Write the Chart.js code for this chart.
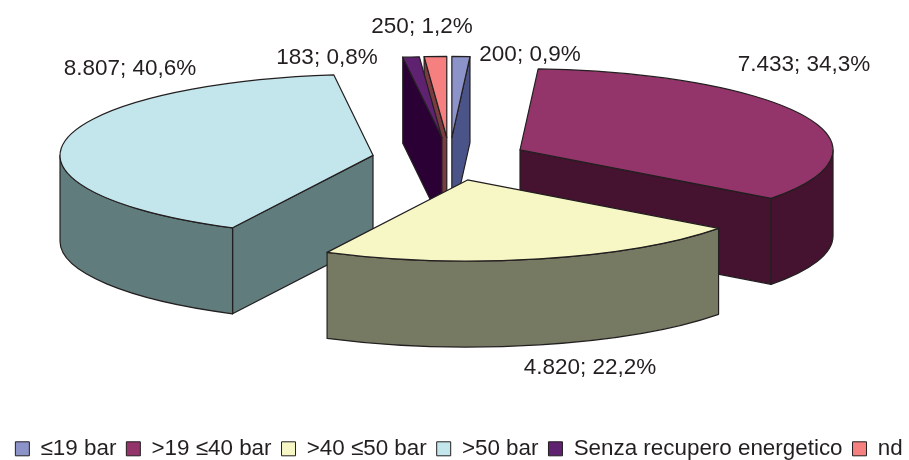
<!DOCTYPE html>
<html><head><meta charset="utf-8">
<style>html,body{margin:0;padding:0;background:#fff}canvas{display:block}</style>
<script src="https://cdn.jsdelivr.net/npm/chart.js@4/dist/chart.umd.min.js"></script>
</head><body><canvas id="c" width="909" height="460"></canvas>
<script>
const categories = ['≤19 bar','>19 ≤40 bar','>40 ≤50 bar','>50 bar','Senza recupero energetico','nd'];
const values = [200,7433,4820,8807,183,250];
const topColors = ['#8C93C8','#93356B','#F7F6C5','#C3E6EC','#5E2270','#F68080'];
const wallColors = ['#4A5488','#45122F','#767A62','#617C7D','#2A0035','#7A3C40'];
const paintOrder = [5,4,0,3,1,2];
const labelCenters = [[530,55],[804,65],[590,368],[130,69],[327,58],[422,27]];

const INK = '#231F20', FONT = 'Liberation Sans, Arial, sans-serif';
const RADIUS = 313, TILT = 0.259, DEPTH = 86, EXPLODE = 77.7, EXPLODE_TILT = 0.277;
const PIE_CX = 449.6, PIE_CY = 159, LEGEND_SHIFT = 4.5;

const total = values.reduce((a,b)=>a+b,0);
const fmt = v => {
  const s = String(v).replace(/\B(?=(\d{3})+$)/g,'.');
  return s + '; ' + (v/total*100).toFixed(1).replace('.',',') + '%';
};

const pie3d = {
  id:'pie3d',
  afterLayout(chart){
    chart.legend.left += LEGEND_SHIFT;
    chart.legend.right += LEGEND_SHIFT;
  },
  beforeDatasetDraw(chart,args){
    const ctx = chart.ctx, arcs = args.meta.data;
    ctx.lineJoin = 'round';
    for (const i of paintOrder){
      const arc = arcs[i], a0 = arc.startAngle, a1 = arc.endAngle, R = arc.outerRadius, mid = (a0+a1)/2;
      const cx = PIE_CX + EXPLODE*Math.cos(mid), cy = PIE_CY + EXPLODE*EXPLODE_TILT*Math.sin(mid);
      const rim = a => [cx+R*Math.cos(a), cy+R*TILT*Math.sin(a)];
      ctx.fillStyle = wallColors[i]; ctx.strokeStyle = INK; ctx.lineWidth = 1.2;
      const face = a => {
        const p = rim(a);
        ctx.beginPath(); ctx.moveTo(cx,cy); ctx.lineTo(p[0],p[1]); ctx.lineTo(p[0],p[1]+DEPTH); ctx.lineTo(cx,cy+DEPTH); ctx.closePath();
        ctx.fill(); ctx.stroke();
      };
      if (Math.cos(a0) < -1e-6) face(a0);
      if (Math.cos(a1) > 1e-6) face(a1);
      const s = Math.max(a0,0), e = Math.min(a1,Math.PI);
      if (e > s){
        ctx.beginPath();
        ctx.ellipse(cx,cy,R,R*TILT,0,s,e);
        ctx.ellipse(cx,cy+DEPTH,R,R*TILT,0,e,s,true);
        ctx.closePath(); ctx.fill(); ctx.stroke();
      }
      ctx.save();
      ctx.translate(cx,cy); ctx.scale(1,TILT); ctx.translate(-arc.x,-arc.y);
      arc.draw(ctx,chart.chartArea);
      ctx.restore();
      ctx.beginPath(); ctx.moveTo(cx,cy); ctx.ellipse(cx,cy,R,R*TILT,0,a0,a1); ctx.closePath(); ctx.stroke();
    }
    return false;
  },
  afterDatasetsDraw(chart){
    const ctx = chart.ctx;
    ctx.save();
    ctx.fillStyle = INK; ctx.font = '22.5px '+FONT; ctx.textAlign='center'; ctx.textBaseline='middle';
    values.forEach((v,i)=>ctx.fillText(fmt(v),labelCenters[i][0],labelCenters[i][1]));
    ctx.restore();
  }
};

new Chart(document.getElementById('c'),{
  type:'pie',
  data:{labels:categories,datasets:[{data:values,backgroundColor:topColors,borderWidth:0}]},
  options:{
    responsive:false,animation:false,radius:RADIUS,
    layout:{padding:{bottom:-10}},
    plugins:{
      tooltip:{enabled:false},
      legend:{position:'bottom',labels:{
        boxWidth:14,boxHeight:14,padding:10,color:INK,font:{family:FONT,size:22.4},
        generateLabels(chart){
          return Chart.overrides.pie.plugins.legend.labels.generateLabels(chart).map(l=>({...l,strokeStyle:INK,lineWidth:1}));
        }
      }}
    }
  },
  plugins:[pie3d]
});
</script></body></html>
